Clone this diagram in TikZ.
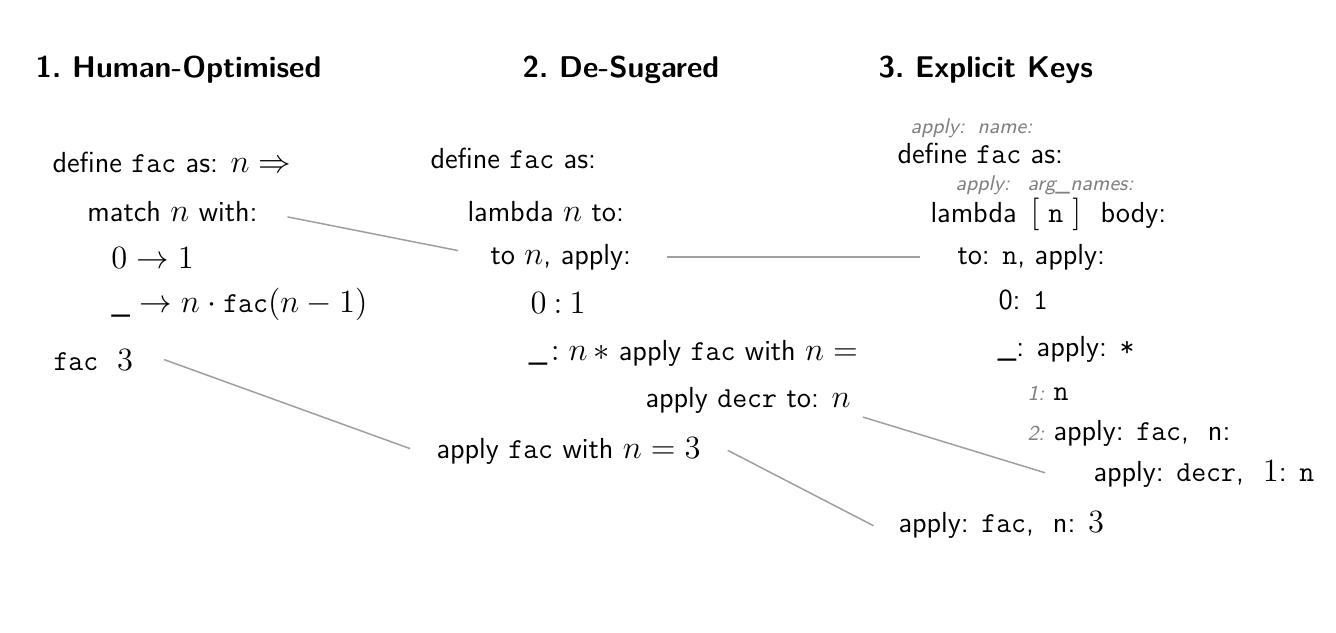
\RequirePackage{fix-cm}
\documentclass[tikz,border=0pt]{standalone}
\usepackage{amsmath}
\usepackage{tikz}
\DeclareMathSizes{11.6}{13}{9}{7}

\begin{document}
\begin{tikzpicture}[x=0.4pt, y=-0.4pt,
    code/.style={anchor=base west, inner sep=0pt, font=\fontsize{11.6}{14}\selectfont\sffamily},
    heading/.style={anchor=base west, inner sep=0pt, font=\large\sffamily\bfseries},
    keytag/.style={anchor=base west, inner sep=0pt, text=gray, font=\fontsize{8.5}{10}\selectfont\sffamily\itshape},
    link/.style={draw=gray!75, line width=0.6pt}]
    \useasboundingbox (0,0) rectangle (1336,633);

    \node[heading] (title1) at (35,77) {1.\ Human-Optimised};
    \node[heading] (title2) at (522,77) {2.\ De-Sugared};
    \node[heading] (title3) at (878,77) {3.\ Explicit Keys};

    % human-optimised
    \node[code] (def1) at (52,172) {define \texttt{fac} as: $n \Rightarrow$};
    \node[code] (match) at (87,221) {match $n$ with:};
    \node[code] (zero1) at (111,268) {$0 \rightarrow 1$};
    \node[code] (other1) at (111,312) {$\_ \rightarrow n \cdot \texttt{fac}(n-1)$};
    \node[code] (fac3) at (53,370) {\texttt{fac} \ $3$};

    % de-sugared
    \node[code] (def2) at (430,168) {define \texttt{fac} as:};
    \node[code] (lambda2) at (467,221) {lambda $n$ to:};
    \node[code] (ton) at (490,264) {to $n$, apply:};
    \node[code] (zero2) at (530,313) {$0 \mathbin{:} 1$};
    \node[code] (other2) at (528,360) {$\_\!: n \,\ast$ apply \texttt{fac} with $n ={}$};
    \node[code] (decr) at (645,407) {apply \texttt{decr} to: $n$};
    \node[code] (appfac) at (436,458) {apply \texttt{fac} with $n = 3$};

    % explicit keys
    \node[keytag] (k1) at (910,133) {apply:};
    \node[keytag] (k2) at (977,133) {name:};
    \node[code] (def3) at (897,163) {define \texttt{fac} as:};
    \node[keytag] (k3) at (955,191) {apply:};
    \node[keytag] (k4) at (1027,191) {arg\_names:};
    \node[code] (lambda3) at (930,222) {lambda};
    \node[code] (args) at (1030,222) {$[\;\texttt{n}\;]$};
    \node[code] (body) at (1100,222) {body:};
    \node[code] (to3) at (957,264) {to: \texttt{n}, apply:};
    \node[code] (zero3) at (998,309) {0: \texttt{1}};
    \node[code] (other3) at (997,356) {\_: apply: \texttt{*}};
    \node[keytag] (k5) at (1027,400) {1:};
    \node[code] (arg1) at (1053,400) {\texttt{n}};
    \node[keytag] (k6) at (1027,440) {2:};
    \node[code] (arg2) at (1053,440) {apply: \texttt{fac},\ \ n:};
    \node[code] (appdecr) at (1093,481) {apply: \texttt{decr},\ \ $1$: \texttt{n}};
    \node[code] (final) at (898,532) {apply: \texttt{fac},\ \ n: $3$};

    \draw[link, shorten <=12pt, shorten >=13pt] (match.east) -- (ton.west);
    \draw[link, shorten <=14pt, shorten >=15pt] (ton.east) -- (to3.west);
    \draw[link, shorten <=13pt, shorten >=11pt] (fac3.north east) -- (appfac.base west);
    \draw[link, shorten <=5pt, shorten >=20pt] (decr.south east) -- (appdecr.south west);
    \draw[link, shorten <=12pt, shorten >=11pt] (appfac.north east) -- (final.south west);
\end{tikzpicture}
\end{document}
